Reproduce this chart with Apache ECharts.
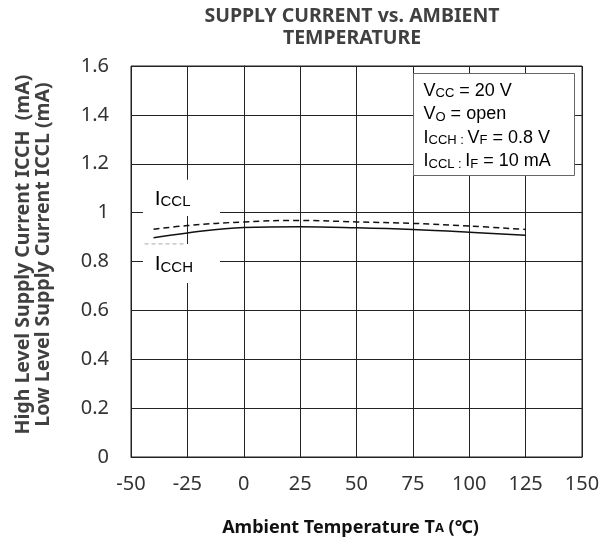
<!DOCTYPE html>
<html><head><meta charset="utf-8">
<script src="https://cdn.jsdelivr.net/npm/echarts@6/dist/echarts.min.js"></script>
<style>html,body{margin:0;padding:0;background:#fff}#c{width:611px;height:542px}</style>
</head><body><div id="c"></div>
<script>
const temps = [-40, -25, 0, 25, 50, 75, 100, 125];
const icch = [0.897, 0.917, 0.939, 0.942, 0.938, 0.931, 0.920, 0.907];
const iccl = [0.932, 0.947, 0.962, 0.968, 0.962, 0.956, 0.945, 0.931];
const xTicks = [-50, -25, 0, 25, 50, 75, 100, 125, 150];
const yTicks = [0, 0.2, 0.4, 0.6, 0.8, 1.0, 1.2, 1.4, 1.6];

const FONT = 'Noto Sans';
const chart = echarts.init(document.getElementById('c'), null, {renderer: 'canvas'});
const toPairs = (xs, ys) => xs.map((x, i) => [x, ys[i]]);

chart.setOption({
  animation: false,
  backgroundColor: '#fff',
  title: {
    text: 'SUPPLY CURRENT vs. AMBIENT\nTEMPERATURE',
    left: 347, top: 0, textAlign: 'center',
    textStyle: {fontFamily: FONT, fontSize: 19.5, fontWeight: 'bold', color: '#404040', lineHeight: 22}
  },
  grid: {left: 131, right: 29, top: 66, bottom: 85, show: true, borderColor: '#222', borderWidth: 1, containLabel: false},
  xAxis: {
    type: 'value', min: xTicks[0], max: xTicks[xTicks.length - 1], interval: 25,
    name: 'Ambient Temperature T{s|A} (℃)', nameLocation: 'middle', nameGap: 62,
    nameTextStyle: {fontFamily: FONT, fontSize: 18, fontWeight: 'bold', color: '#111', padding: [0, 12, 0, 0],
      rich: {s: {fontFamily: FONT, fontSize: 13, fontWeight: 'bold', color: '#111'}}},
    axisLine: {show: true, lineStyle: {color: '#222', width: 1}},
    axisTick: {show: false},
    axisLabel: {fontFamily: FONT, fontSize: 20, color: '#333', margin: 17},
    splitLine: {show: true, lineStyle: {color: '#222', width: 1}}
  },
  yAxis: {
    type: 'value', min: yTicks[0], max: yTicks[yTicks.length - 1], interval: 0.2,
    name: 'High Level Supply Current ICCH  (mA)\nLow Level Supply Current ICCL (mA)',
    nameLocation: 'middle', nameGap: 78, nameRotate: 90,
    nameTextStyle: {fontFamily: FONT, fontSize: 19.5, fontWeight: 'bold', color: '#404040', lineHeight: 20,
      padding: [0, 0, 0, 14]},
    axisLine: {show: true, lineStyle: {color: '#222', width: 1}},
    axisTick: {show: false},
    axisLabel: {fontFamily: FONT, fontSize: 20, color: '#333', margin: 22},
    splitLine: {show: true, lineStyle: {color: '#222', width: 1}}
  },
  series: [
    {name: 'ICCH', type: 'line', data: toPairs(temps, icch), smooth: 0.4, symbol: 'none',
     lineStyle: {color: '#111', width: 1.5, type: 'solid'}, z: 5},
    {name: 'ICCL', type: 'line', data: toPairs(temps, iccl), smooth: 0.4, symbol: 'none',
     lineStyle: {color: '#111', width: 1.5, type: [6, 4]}, z: 5}
  ]
});

const px = (x, y) => chart.convertToPixel({gridIndex: 0}, [x, y]);
const labStyle = {
  b: {fontFamily: 'Liberation Sans', fontSize: 21, color: '#222', verticalAlign: 'bottom', lineHeight: 22},
  s: {fontFamily: 'Liberation Sans', fontSize: 15, color: '#222', verticalAlign: 'bottom', lineHeight: 20}
};
function whiteBox(x0, y0, x1, y1) {
  const a = px(x0, y0), b = px(x1, y1);
  return {type: 'rect', shape: {x: a[0], y: a[1], width: b[0] - a[0], height: b[1] - a[1]},
          style: {fill: '#fff', stroke: null}, z: 10};
}
const lblL = px(-39.5, 1.058), lblH = px(-39.5, 0.79);
const dl0 = px(-44, 0.872), dl1 = px(-26, 0.872);

chart.setOption({
  graphic: [
    whiteBox(-44.7, 1.135, -10.5, 0.986),
    whiteBox(-44.7, 0.872, -10.5, 0.712),
    {type: 'line', shape: {x1: dl0[0], y1: dl0[1], x2: dl1[0], y2: dl1[1]},
     style: {stroke: '#aaa', lineWidth: 1, lineDash: [4, 3]}, z: 11},
    {type: 'text', x: lblL[0], y: lblL[1], z: 12,
     style: {text: '{b|I}{s|CCL}', rich: labStyle, textVerticalAlign: 'middle'}},
    {type: 'text', x: lblH[0], y: lblH[1], z: 12,
     style: {text: '{b|I}{s|CCH}', rich: labStyle, textVerticalAlign: 'middle'}},
    {type: 'group', left: 413, top: 73, z: 20, children: [
      {type: 'rect', shape: {x: 0, y: 0, width: 161, height: 102},
       style: {fill: '#fff', stroke: '#666', lineWidth: 1}},
      {type: 'text', x: 10, y: 3,
       style: {text: '{b|V}{s|CC}{b| = 20 V}\n{b|V}{s|O}{b| = open}\n{b|I}{s|CCH : }{b|V}{s|F}{b| = 0.8 V}\n{b|I}{s|CCL : }{b|I}{s|F}{b| = 10 mA}',
        rich: {
          b: {fontFamily: 'Liberation Sans', fontSize: 18, color: '#111', lineHeight: 23.5, verticalAlign: 'bottom'},
          s: {fontFamily: 'Liberation Sans', fontSize: 13, color: '#111', lineHeight: 21.5, verticalAlign: 'bottom'}
        }}}
    ]}
  ]
});
</script></body></html>
